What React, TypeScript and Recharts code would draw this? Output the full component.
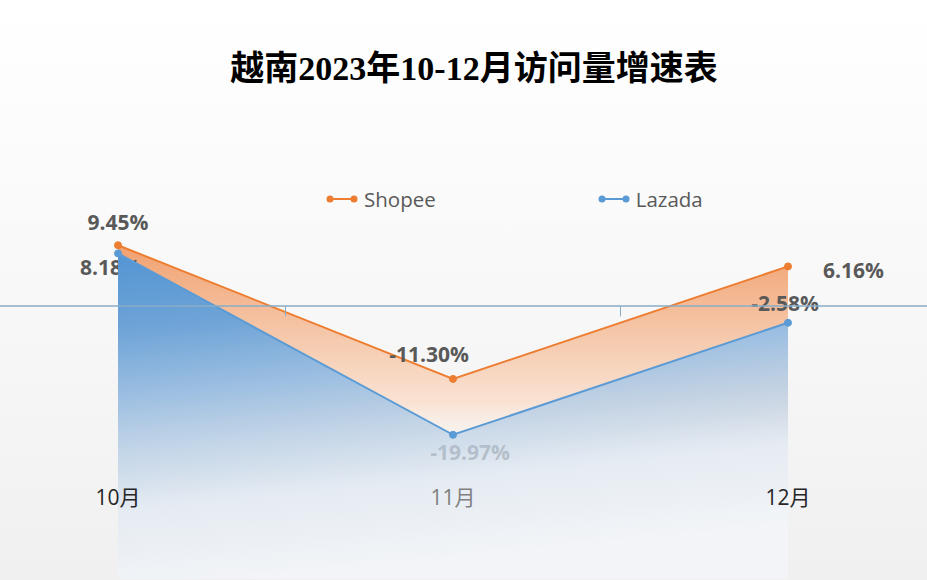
import React from "react"
import {
  ComposedChart,
  Area,
  XAxis,
  YAxis,
  ReferenceLine,
  Legend,
  LabelList,
} from "recharts"

const months = ["10月", "11月", "12月"]
const shopee = [9.45, -11.3, 6.16]
const lazada = [8.18, -19.97, -2.58]
const seriesOrder = ["Shopee", "Lazada"]
const yDomain = [-42.35, 47.5]
const midTicks = [0.5, 1.5]

const data = months.map((m, i) => ({ month: m, Shopee: shopee[i], Lazada: lazada[i] }))

const ORANGE = "#ed7d31"
const BLUE = "#5b9bd5"
const LABEL = "#595959"
const latin = "'Open Sans', 'Noto Sans CJK SC', sans-serif"

// label placement relative to the point (Excel-style manual placement)
const shopeeLabelPos = [
  { dx: 0, dy: -23, anchor: "middle" },
  { dx: -24, dy: -25, anchor: "middle" },
  { dx: 35, dy: 4, anchor: "start" },
]
const lazadaLabelPos = [
  { dx: -38, dy: 14, anchor: "start" },
  { dx: 17, dy: 17, anchor: "middle" },
  { dx: -3, dy: -20, anchor: "middle" },
]
// month labels partly sit under the translucent area in the original
const monthColors = ["#262626", "#808080", "#262626"]

const makeLabel = (pos: typeof shopeeLabelPos) => (props: any) => {
  const { index, value } = props
  const x = props.x ?? props.viewBox?.x
  const y = props.y ?? props.viewBox?.y
  const p = pos[index]
  if (p == null || x == null) return null
  return (
    <text
      x={x + p.dx}
      y={y + p.dy}
      textAnchor={p.anchor as any}
      dominantBaseline="central"
      fill={LABEL}
      fontFamily={latin}
      fontWeight={700}
      fontSize={21}
    >
      {Number(value).toFixed(2)}%
    </text>
  )
}

const MonthTick = (props: any) => {
  const { x, y, payload, index } = props
  return (
    <text
      x={x}
      y={y - 90}
      textAnchor="middle"
      dominantBaseline="central"
      fill={monthColors[index] ?? "#262626"}
      fontFamily={latin}
      fontSize={21}
    >
      {payload.value}
    </text>
  )
}

const renderLegend = (props: any) => {
  const items = [...(props.payload || [])].sort(
    (a: any, b: any) => seriesOrder.indexOf(a.value) - seriesOrder.indexOf(b.value)
  )
  return (
    <div style={{ display: "flex", gap: 162, fontFamily: latin, fontSize: 20.5, color: LABEL }}>
      {items.map((it: any) => (
        <div key={it.value} style={{ display: "flex", alignItems: "center", gap: 6 }}>
          <svg width={32} height={10}>
            <line x1={4} y1={5} x2={28} y2={5} stroke={it.color} strokeWidth={2} />
            <circle cx={4} cy={5} r={3.5} fill={it.color} />
            <circle cx={28} cy={5} r={3.5} fill={it.color} />
          </svg>
          <span>{it.value}</span>
        </div>
      ))}
    </div>
  )
}

export default function App() {
  return (
    <div
      style={{
        position: "absolute",
        left: 0,
        top: 0,
        width: 927,
        height: 580,
        overflow: "hidden",
        background: "linear-gradient(180deg, #ffffff 0%, #f8f8f8 50%, #f0f0f0 100%)",
      }}
    >
      <div
        style={{
          position: "absolute",
          left: 0,
          top: 41,
          width: 948,
          textAlign: "center",
          fontFamily: "'Liberation Serif', 'Noto Sans CJK SC', serif",
          fontSize: 34,
          fontWeight: 700,
          color: "#000",
        }}
      >
        越南2023年10-12月访问量增速表
      </div>
      <ComposedChart
        width={927}
        height={580}
        data={data}
        margin={{ top: 0, right: 0, bottom: 0, left: 0 }}
        style={{ position: "absolute", left: 0, top: 0 }}
      >
        <defs>
          <linearGradient id="gShopee" x1="0" y1="0" x2="0" y2="1">
            <stop offset="0%" stopColor="#f09660" stopOpacity={0.9} />
            <stop offset="10%" stopColor="#f2a676" stopOpacity={0.88} />
            <stop offset="26%" stopColor="#f5bf9c" stopOpacity={0.86} />
            <stop offset="47%" stopColor="#fadfcd" stopOpacity={0.86} />
            <stop offset="66%" stopColor="#ffffff" stopOpacity={0} />
            <stop offset="100%" stopColor="#ffffff" stopOpacity={0} />
          </linearGradient>
          <linearGradient id="gLazada" x1="0" y1="0" x2="0.2" y2="1">
            <stop offset="0%" stopColor="#5495d3" stopOpacity={1} />
            <stop offset="22%" stopColor="#6da3d7" stopOpacity={1} />
            <stop offset="44%" stopColor="#a0c1e2" stopOpacity={1} />
            <stop offset="66%" stopColor="#c8d8e9" stopOpacity={0.8} />
            <stop offset="76%" stopColor="#dfe8f2" stopOpacity={0.7} />
            <stop offset="100%" stopColor="#f3f6fa" stopOpacity={0.7} />
          </linearGradient>
        </defs>
        <XAxis
          dataKey="month"
          padding={{ left: 118, right: 139 }}
          axisLine={false}
          tickLine={false}
          height={1}
          tick={<MonthTick />}
          interval={0}
        />
        <XAxis
          xAxisId="mid"
          type="number"
          domain={[0, 2]}
          padding={{ left: 118, right: 139 }}
          hide
        />
        <YAxis type="number" domain={yDomain} allowDataOverflow hide />
        <ReferenceLine y={0} stroke="#88adc7" strokeWidth={1.5} />
        {midTicks.map((t) => (
          <ReferenceLine
            key={t}
            xAxisId="mid"
            segment={[
              { x: t, y: 0 },
              { x: t, y: -1.6 },
            ]}
            stroke="#88adc7"
            strokeWidth={1}
          />
        ))}
        <Area
          type="linear"
          dataKey="Shopee"
          baseValue="dataMin"
          stroke={ORANGE}
          strokeWidth={2}
          fill="url(#gShopee)"
          fillOpacity={1}
          dot={{ r: 3.5, fill: ORANGE, stroke: ORANGE, strokeWidth: 1 }}
          activeDot={false}
          isAnimationActive={false}
          zIndex={100}
        >
          <LabelList dataKey="Shopee" content={makeLabel(shopeeLabelPos)} zIndex={150} />
        </Area>
        <Area
          type="linear"
          dataKey="Lazada"
          baseValue="dataMin"
          stroke={BLUE}
          strokeWidth={2}
          fill="url(#gLazada)"
          fillOpacity={1}
          dot={{ r: 3.5, fill: BLUE, stroke: BLUE, strokeWidth: 1 }}
          activeDot={false}
          isAnimationActive={false}
          zIndex={200}
        >
          <LabelList dataKey="Lazada" content={makeLabel(lazadaLabelPos)} zIndex={150} />
        </Area>
        <Legend
          verticalAlign="middle"
          content={renderLegend}
          wrapperStyle={{ position: "absolute", top: 185, left: 326, width: "auto" }}
        />
      </ComposedChart>
    </div>
  )
}
